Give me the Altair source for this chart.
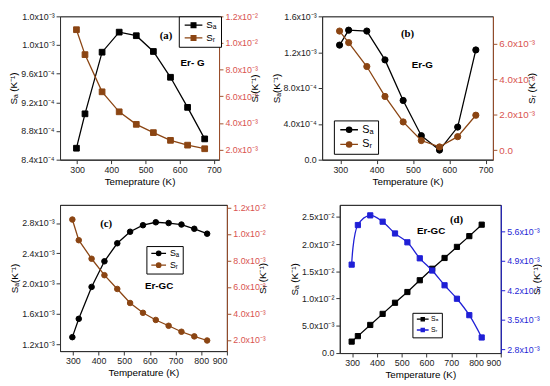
import altair as alt
import pandas as pd

# ---------------- data ----------------
T_ab = [298, 323, 373, 423, 473, 523, 573, 623, 673]
T_cd = [298, 323, 373, 423, 473, 523, 573, 623, 673, 723, 773, 823]

sa_a = [8.56e-4, 9.04e-4, 9.90e-4, 1.018e-3, 1.013e-3, 9.91e-4, 9.55e-4, 9.13e-4, 8.69e-4]
sr_a = [1.10e-2, 9.13e-3, 6.34e-3, 4.84e-3, 3.90e-3, 3.28e-3, 2.70e-3, 2.34e-3, 2.07e-3]

sa_b = [1.279e-3, 1.446e-3, 1.436e-3, 1.114e-3, 0.661e-3, 0.268e-3, 0.107e-3, 0.364e-3, 1.225e-3]
sr_b = [6.72e-3, 6.07e-3, 4.72e-3, 3.03e-3, 1.59e-3, 0.54e-3, 0.18e-3, 0.76e-3, 1.97e-3]

sa_c = [1.294e-3, 1.536e-3, 1.957e-3, 2.295e-3, 2.533e-3, 2.685e-3, 2.771e-3, 2.81e-3,
        2.80e-3, 2.78e-3, 2.724e-3, 2.659e-3]
sr_c = [11.09e-3, 9.53e-3, 8.13e-3, 6.89e-3, 5.85e-3, 4.79e-3, 4.05e-3, 3.51e-3,
        3.07e-3, 2.62e-3, 2.27e-3, 1.96e-3]

sa_d = [2.1e-3, 3.11e-3, 5.16e-3, 7.19e-3, 9.23e-3, 11.2e-3, 13.36e-3, 15.47e-3,
        17.45e-3, 19.48e-3, 21.46e-3, 23.56e-3]
sr_d = [4.81e-3, 5.75e-3, 5.98e-3, 5.83e-3, 5.55e-3, 5.34e-3, 4.96e-3, 4.67e-3,
        4.32e-3, 4.0e-3, 3.61e-3, 3.08e-3]

series = ["Sₐ", "Sᵣ"]
panel_tags = ["(a)", "(b)", "(c)", "(d)"]
sample_names = ["Er- G", "Er-G", "Er-GC", "Er-GC"]
x_titles = ["Temeprature (K)", "Temperature (K)", "Temperature (K)", "Temperature (K)"]
left_titles = ["Sₐ (K⁻¹)", "Sₐ(K⁻¹)", "Sₐ(K⁻¹)", "Sₐ (K⁻¹)"]
right_titles = ["Sᵣ(K⁻¹)", "Sᵣ (K⁻¹)", "Sᵣ (K⁻¹)", "Sᵣ (K⁻¹)"]

x_ticks_ab = [300, 400, 500, 600, 700]
x_ticks_cd = [300, 400, 500, 600, 700, 800, 900]
yl_ticks_a = [8.4e-4, 8.8e-4, 9.2e-4, 9.6e-4, 1.0e-3, 1.04e-3]
yr_ticks_a = [2e-3, 4e-3, 6e-3, 8e-3, 1e-2, 1.2e-2]
yl_ticks_b = [0, 4e-4, 8e-4, 1.2e-3, 1.6e-3]
yr_ticks_b = [0, 2e-3, 4e-3, 6e-3]
yl_ticks_c = [1.2e-3, 1.6e-3, 2.0e-3, 2.4e-3, 2.8e-3]
yr_ticks_c = [2e-3, 4e-3, 6e-3, 8e-3, 1e-2, 1.2e-2]
yl_ticks_d = [0, 5e-3, 1e-2, 1.5e-2, 2e-2, 2.5e-2]
yr_ticks_d = [2.8e-3, 3.5e-3, 4.2e-3, 4.9e-3, 5.6e-3]

# ---------------- styling ----------------
FONT = "Liberation Sans"
E = "floor(log(abs(datum.value))/LN10+1e-9)"
SUP = f"({E}==-2?'⁻²':{E}==-3?'⁻³':'⁻⁴')"
EXPR = f"abs(datum.value)<1e-12?'0.0':format(datum.value/pow(10,{E}),'.1f')+'x10'+{SUP}"

SQ = "M-3,0H3M-0.8,-0.8H0.8V0.8H-0.8Z"
CI = "M-3,0H3M0.9,0A0.9,0.9,0,1,1,-0.9,0A0.9,0.9,0,1,1,0.9,0Z"

BROWN = "#8b4513"
RED_LBL = "#d9534f"
BROWN_AX = "#a0522d"
BLUE = "#1f1fd6"


def panel(k, T, sa, sr, cfg):
    n = len(T)
    df = pd.DataFrame({"T": T + T, "v": sa + sr, "s": [series[0]] * n + [series[1]] * n})
    base = alt.Chart(df)
    x = alt.X("T:Q", scale=alt.Scale(domain=cfg["xdom"], nice=False, zero=False),
              axis=alt.Axis(values=cfg["xticks"], title=x_titles[k], format="d",
                            titleFontWeight="normal"))
    cs = alt.Scale(domain=series, range=["#000000", cfg["rcol"]])
    leg = alt.Legend(orient="none", legendX=cfg["legxy"][0], legendY=cfg["legxy"][1],
                     title=None, symbolType=cfg["sym"], symbolSize=cfg["symsize"],
                     symbolStrokeWidth=1.3, symbolOffset=cfg["symoff"], labelOffset=cfg["laboff"],
                     labelFont=FONT, labelFontSize=cfg["legfs"], rowPadding=cfg["rowpad"],
                     padding=cfg["legpad"], strokeColor="#000000", fillColor="#ffffff")
    yl = alt.Y("v:Q", scale=alt.Scale(domain=cfg["ldom"], nice=False, zero=False),
               axis=alt.Axis(orient="left", values=cfg["lticks"], labelExpr=EXPR,
                             title=left_titles[k], titleFontWeight="normal"))
    yr = alt.Y("v:Q", scale=alt.Scale(domain=cfg["rdom"], nice=False, zero=False),
               axis=alt.Axis(orient="right", values=cfg["rticks"], labelExpr=EXPR,
                             title=right_titles[k], titleAngle=270, titleFontWeight="normal",
                             labelColor=cfg["rlab"], domainColor=cfg["rax"],
                             labelFontSize=cfg["rfs"], tickColor=cfg["rax"]))
    fa = alt.datum.s == series[0]
    fr = alt.datum.s == series[1]
    lineL = base.transform_filter(fa).mark_line(color="#000000", strokeWidth=1.3).encode(x=x, y=yl)
    ptL = base.transform_filter(fa).mark_point(
        shape=cfg["shape"], size=cfg["ptsize"], opacity=1, strokeWidth=1
    ).encode(x=x, y=yl,
             color=alt.Color("s:N", scale=cs, legend=leg),
             fill=alt.Fill("s:N", scale=cs, legend=leg))
    lineR = base.transform_filter(fr).mark_line(
        color=cfg["rcol"], strokeWidth=1.3, interpolate=cfg["interp"]).encode(x=x, y=yr)
    ptR = base.transform_filter(fr).mark_point(
        shape=cfg["shape"], size=cfg["ptsize"], opacity=1, strokeWidth=1
    ).encode(x=x, y=yr,
             color=alt.Color("s:N", scale=cs, legend=leg),
             fill=alt.Fill("s:N", scale=cs, legend=leg))
    tdf = pd.DataFrame({"tag": [panel_tags[k]], "name": [sample_names[k]]})
    tag = alt.Chart(tdf).mark_text(font="Liberation Serif", fontWeight="bold", fontSize=11,
                                   color="#000000").encode(
        x=alt.value(cfg["tagxy"][0]), y=alt.value(cfg["tagxy"][1]), text="tag:N")
    name = alt.Chart(tdf).mark_text(font=FONT, fontWeight="bold", fontSize=10,
                                    color="#000000").encode(
        x=alt.value(cfg["namexy"][0]), y=alt.value(cfg["namexy"][1]), text="name:N")
    left = alt.layer(lineL, ptL, tag, name)
    right = alt.layer(lineR, ptR)
    return alt.layer(left, right).resolve_scale(y="independent").properties(
        width=cfg["w"], height=cfg["h"])


cfgA = dict(xdom=[250, 715], xticks=x_ticks_ab, ldom=[8.4e-4, 1.04e-3], rdom=[1.25e-3, 1.2e-2],
            lticks=yl_ticks_a, rticks=yr_ticks_a, rcol=BROWN, rlab=RED_LBL, rax=BROWN_AX, rfs=9,
            shape="square", ptsize=34, sym=SQ, symsize=36, symoff=6, laboff=8, legfs=10,
            rowpad=3, legpad=4, legxy=[121, 0], interp="linear",
            tagxy=[108, 20], namexy=[135, 48], w=162, h=146)
cfgB = dict(xdom=[250, 720], xticks=x_ticks_ab, ldom=[0, 1.6e-3], rdom=[-0.54e-3, 7.55e-3],
            lticks=yl_ticks_b, rticks=yr_ticks_b, rcol=BROWN, rlab=RED_LBL, rax=BROWN_AX, rfs=10,
            shape="circle", ptsize=40, sym=CI, symsize=36, symoff=6, laboff=8, legfs=11,
            rowpad=3, legpad=4, legxy=[12, 106], interp="linear",
            tagxy=[87, 18], namexy=[102, 50], w=174, h=146)
cfgC = dict(xdom=[250, 900], xticks=x_ticks_cd, ldom=[1.11e-3, 3.04e-3], rdom=[1.16e-3, 1.22e-2],
            lticks=yl_ticks_c, rticks=yr_ticks_c, rcol=BROWN, rlab=RED_LBL, rax=BROWN_AX, rfs=9,
            shape="circle", ptsize=32, sym=CI, symsize=25, symoff=5, laboff=7, legfs=9,
            rowpad=1, legpad=3, legxy=[88, 42], interp="linear",
            tagxy=[47, 20], namexy=[101, 83], w=170, h=149)
cfgD = dict(xdom=[250, 900], xticks=x_ticks_cd, ldom=[0, 2.72e-2], rdom=[2.71e-3, 6.23e-3],
            lticks=yl_ticks_d, rticks=yr_ticks_d, rcol=BLUE, rlab=BLUE, rax=BLUE, rfs=9,
            shape="square", ptsize=28, sym=SQ, symsize=16, symoff=4, laboff=5, legfs=7,
            rowpad=2, legpad=3, legxy=[74, 110], interp="catmull-rom",
            tagxy=[119, 15], namexy=[93, 27], w=164, h=151)

A = panel(0, T_ab, sa_a, sr_a, cfgA)
B = panel(1, T_ab, sa_b, sr_b, cfgB)
C = panel(2, T_cd, sa_c, sr_c, cfgC)
D = panel(3, T_cd, sa_d, sr_d, cfgD)

row1 = alt.hconcat(A, B, spacing=10).resolve_scale(color="independent", fill="independent")
row2 = alt.hconcat(C, D, spacing=21).resolve_scale(color="independent", fill="independent")
chart = alt.vconcat(row1, row2, spacing=16).resolve_scale(
    color="independent", fill="independent"
).properties(padding=0).configure_view(
    stroke="#000000", strokeWidth=1
).configure_axis(
    labelFont=FONT, titleFont=FONT, labelFontSize=9, titleFontSize=10,
    titleFontWeight="normal", labelColor="#222222", titleColor="#000000",
    domainColor="#333333", tickColor="#333333", tickSize=4, labelPadding=2,
    titlePadding=2, grid=False
)

chart.save("out.html", embed_options={"renderer": "svg", "actions": False})
